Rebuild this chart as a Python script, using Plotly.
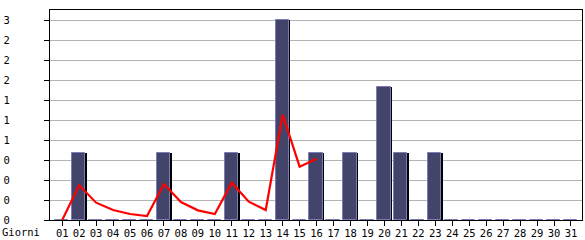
import plotly.graph_objects as go

days = [f"{d:02d}" for d in range(1, 32)]
visits = [0, 1, 0, 0, 0, 0, 1, 0, 0, 0, 1, 0, 0, 3, 0, 1, 0, 1, 0, 2, 1, 0, 1, 0, 0, 0, 0, 0, 0, 0, 0]
trend_days = list(range(1, 17))
trend = [0, 0.52, 0.26, 0.15, 0.09, 0.06, 0.54, 0.27, 0.145, 0.09, 0.56, 0.275, 0.15, 1.58, 0.8, 0.92]
y_ticks = [0, 0.3, 0.6, 0.9, 1.2, 1.5, 1.8, 2.1, 2.4, 2.7, 3.0]
y_labels = ["0", "0", "0", "0", "1", "1", "1", "2", "2", "2", "3"]

xnum = list(range(1, 32))

fig = go.Figure()
# shadow
fig.add_trace(go.Bar(x=xnum, y=visits, width=0.8, offset=-0.34,
                     marker=dict(color="#000000", line=dict(width=0)),
                     hoverinfo="skip", showlegend=False))
# main bars
fig.add_trace(go.Bar(x=xnum, y=visits, width=0.78, offset=-0.42,
                     marker=dict(color="#424569", line=dict(color="#7b7bb8", width=1)),
                     showlegend=False))
fig.add_trace(go.Scatter(x=trend_days, y=trend, mode="lines",
                         line=dict(color="#ff0000", width=2.2), showlegend=False))

fig.update_layout(
    width=585, height=240,
    margin=dict(l=50, r=3, t=10, b=20),
    paper_bgcolor="white", plot_bgcolor="white",
    barmode="overlay", bargap=0,
    font=dict(family="DejaVu Sans Mono", size=10, color="black"),
    annotations=[dict(text="Giorni", xref="paper", yref="paper", x=-0.094, y=0,
                      xanchor="left", yanchor="top", yshift=-4, showarrow=False,
                      font=dict(family="DejaVu Sans Mono", size=10.5, color="black"))],
)
fig.update_xaxes(range=[0.28, 31.65], tickvals=xnum, ticktext=days,
                 ticks="outside", ticklen=5, tickcolor="black", automargin=False,
                 showline=True, linecolor="black", linewidth=1, mirror=True,
                 showgrid=False, zeroline=False, ticklabelstandoff=-2,
                 tickfont=dict(family="DejaVu Sans Mono", size=10.5))
fig.update_yaxes(range=[0, 3.15], tickvals=y_ticks, ticktext=y_labels,
                 ticks="outside", ticklen=5, tickcolor="black", automargin=False,
                 showline=True, linecolor="black", linewidth=1, mirror=True,
                 showgrid=True, gridcolor="#b4b4b4", gridwidth=1, zeroline=False,
                 ticklabelstandoff=32,
                 tickfont=dict(family="DejaVu Sans Mono", size=10.5))

fig.write_html("out.html")
